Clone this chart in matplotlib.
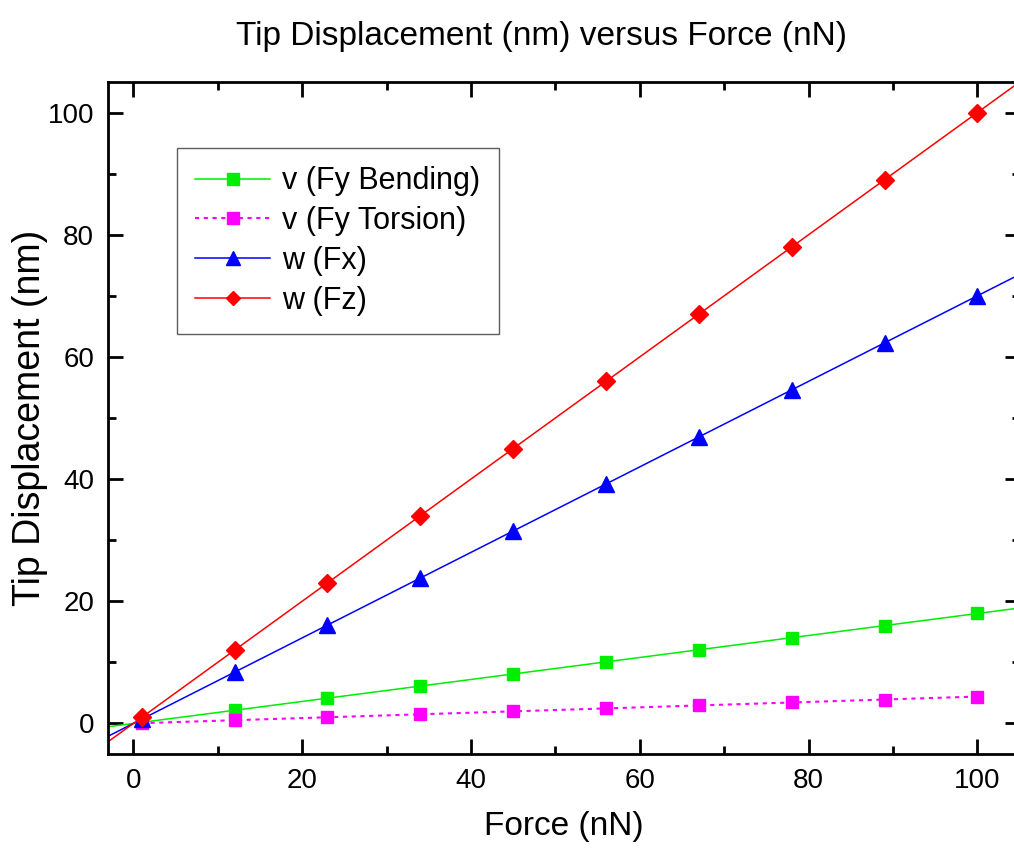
import numpy as np
import matplotlib
matplotlib.use("Agg")
import matplotlib.pyplot as plt
from matplotlib.ticker import MultipleLocator

# ── data ─────────────────────────────────────────────
force = [1, 12, 23, 34, 45, 56, 67, 78, 89, 100]
v_bending = [0.18, 2.16, 4.14, 6.12, 8.1, 10.08, 12.06, 14.04, 16.02, 18.0]
v_torsion = [0.04, 0.53, 1.01, 1.5, 1.98, 2.46, 2.95, 3.43, 3.92, 4.4]
w_fx = [0.7, 8.4, 16.1, 23.8, 31.5, 39.2, 46.9, 54.6, 62.3, 70.0]
w_fz = [1, 12, 23, 34, 45, 56, 67, 78, 89, 100]

plt.rcParams['font.family'] = ['Liberation Sans', 'DejaVu Sans']

GREEN, MAGENTA, BLUE, RED = '#00ee00', '#ff00ff', '#0000ff', '#ff0000'
DOTS = (0, (2, 2.2))

fig = plt.figure(figsize=(10.14, 8.49), dpi=100)
ax = fig.add_axes([0.1065, 0.1119, 0.899, 0.7915])

xlim = (-3, 105)
xfit = np.array(xlim)

# fitted lines run across the whole axis, torsion just joins its points
for y, col in [(v_bending, GREEN), (w_fx, BLUE), (w_fz, RED)]:
    k, b = np.polyfit(force, y, 1)
    ax.plot(xfit, k * xfit + b, color=col, lw=1.1, zorder=2)

ax.plot(force, v_bending, ls='none', marker='s', ms=8.5, color=GREEN, zorder=3)
ax.plot(force, v_torsion, ls=DOTS, lw=1.5, marker='s', ms=8.5,
        color=MAGENTA, zorder=3)
ax.plot(force, w_fx, ls='none', marker='^', ms=12, color=BLUE, zorder=3)
ax.plot(force, w_fz, ls='none', marker='D', ms=9.5, color=RED, zorder=3)

# legend proxies
h1, = ax.plot([], [], color=GREEN, lw=1.1, marker='s', ms=8)
h2, = ax.plot([], [], color=MAGENTA, lw=1.5, ls=DOTS, marker='s', ms=8)
h3, = ax.plot([], [], color=BLUE, lw=1.1, marker='^', ms=10)
h4, = ax.plot([], [], color=RED, lw=1.1, marker='D', ms=7.5)
leg = ax.legend([h1, h2, h3, h4],
                ['v (Fy Bending)', 'v (Fy Torsion)', 'w (Fx)', 'w (Fz)'],
                loc='upper left', bbox_to_anchor=(0.0757, 0.902),
                fontsize=22, frameon=True, fancybox=False, edgecolor='#333333',
                handlelength=2.45, handletextpad=0.4, labelspacing=0.32,
                borderpad=0.6, borderaxespad=0)
leg.get_frame().set_linewidth(1.0)

ax.set_xlim(*xlim)
ax.set_ylim(-5, 105)
ax.xaxis.set_major_locator(MultipleLocator(20))
ax.xaxis.set_minor_locator(MultipleLocator(10))
ax.yaxis.set_major_locator(MultipleLocator(20))
ax.yaxis.set_minor_locator(MultipleLocator(10))
ax.tick_params(which='both', direction='in', top=True, right=True, width=2,
               labelsize=20, pad=10)
ax.tick_params(which='major', length=11)
ax.tick_params(which='minor', length=6)
for s in ax.spines.values():
    s.set_linewidth(2)

ax.set_xlabel('Force (nN)', fontsize=24, labelpad=12)
ax.set_ylabel('Tip Displacement (nm)', fontsize=27, labelpad=0)
fig.suptitle('Tip Displacement (nm) versus Force (nN)', fontsize=24,
             x=0.534, y=0.975)

fig.savefig('out.png', dpi=100)
